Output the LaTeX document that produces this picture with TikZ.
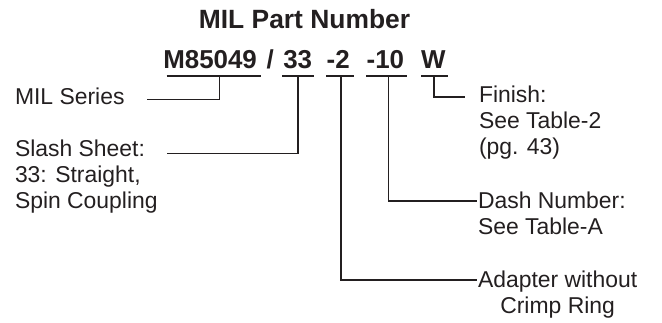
\documentclass[tikz,border=0pt]{standalone}
\usepackage{fontspec}
\setmainfont{Liberation Sans}
\definecolor{ink}{RGB}{35,31,32}
\tikzset{
  lbl/.style={inner sep=0pt, outer sep=0pt, font=\fontsize{23}{26}\selectfont, text=ink, align=left, anchor=base west},
  pn/.style={inner sep=0pt, outer sep=0pt, font=\fontsize{26}{30}\selectfont\bfseries, text=ink, anchor=base west},
  uline/.style={draw=ink, line width=1.8bp},
  conn/.style={draw=ink, line width=1.6bp},
}
\begin{document}
\begin{tikzpicture}[x=1bp, y=-1bp]
\useasboundingbox (0,0) rectangle (662,322);
% title
\node[inner sep=0pt, font=\fontsize{26.5}{30}\selectfont\bfseries, text=ink, anchor=base] (title) at (304.5,28.3) {MIL Part Number};
% part number pieces
\node[pn] (m) at (163.3,68.3) {M85049};
\node[pn] (sl) at (266.7,68.3) {/};
\node[pn] (p33) at (283.3,68.3) {33};
\node[pn] (p2) at (326.7,68.3) {-2};
\node[pn] (p10) at (366.7,68.3) {-10};
\node[pn] (pw) at (421,68.3) {W};
% labels (base anchor = baseline of last line)
\node[lbl] (ser) at (15,104) {MIL Series};
\node[lbl] (slash) at (15,208.7) {Slash Sheet:\\33: Straight,\\Spin Coupling};
\node[lbl] (fin) at (479,154.5) {Finish:\\See Table-2\\(pg. 43)};
\node[lbl] (dash) at (478,234.3) {Dash Number:\\See Table-A};
\node[lbl, align=center] (adp) at (478,313.3) {Adapter without\\Crimp Ring};
% underlines
\draw[uline] (166.7,76) -- (261,76);
\draw[uline] (282.3,76) -- (314,76);
\draw[uline] (326,76) -- (354,76);
\draw[uline] (366,76) -- (407.3,76);
\draw[uline] (421,76) -- (447.7,76);
% connector anchor points
\coordinate (u1) at (219.3,76);
\coordinate (u2) at (297.7,76);
\coordinate (u3) at (341,76);
\coordinate (u4) at (388.3,76);
\coordinate (u5) at (434,76);
\coordinate (e1) at (146.7,99.3);
\coordinate (e2) at (166.7,153.3);
\coordinate (e3) at (476.7,280);
\coordinate (e4) at (476.7,200.7);
\coordinate (e5) at (465,96.7);
% connectors
\draw[conn] (u1) |- (e1);
\draw[conn] (u2) |- (e2);
\draw[conn] (u3) |- (e3);
\draw[conn] (u4) |- (e4);
\draw[conn] (u5) |- (e5);
\end{tikzpicture}
\end{document}
